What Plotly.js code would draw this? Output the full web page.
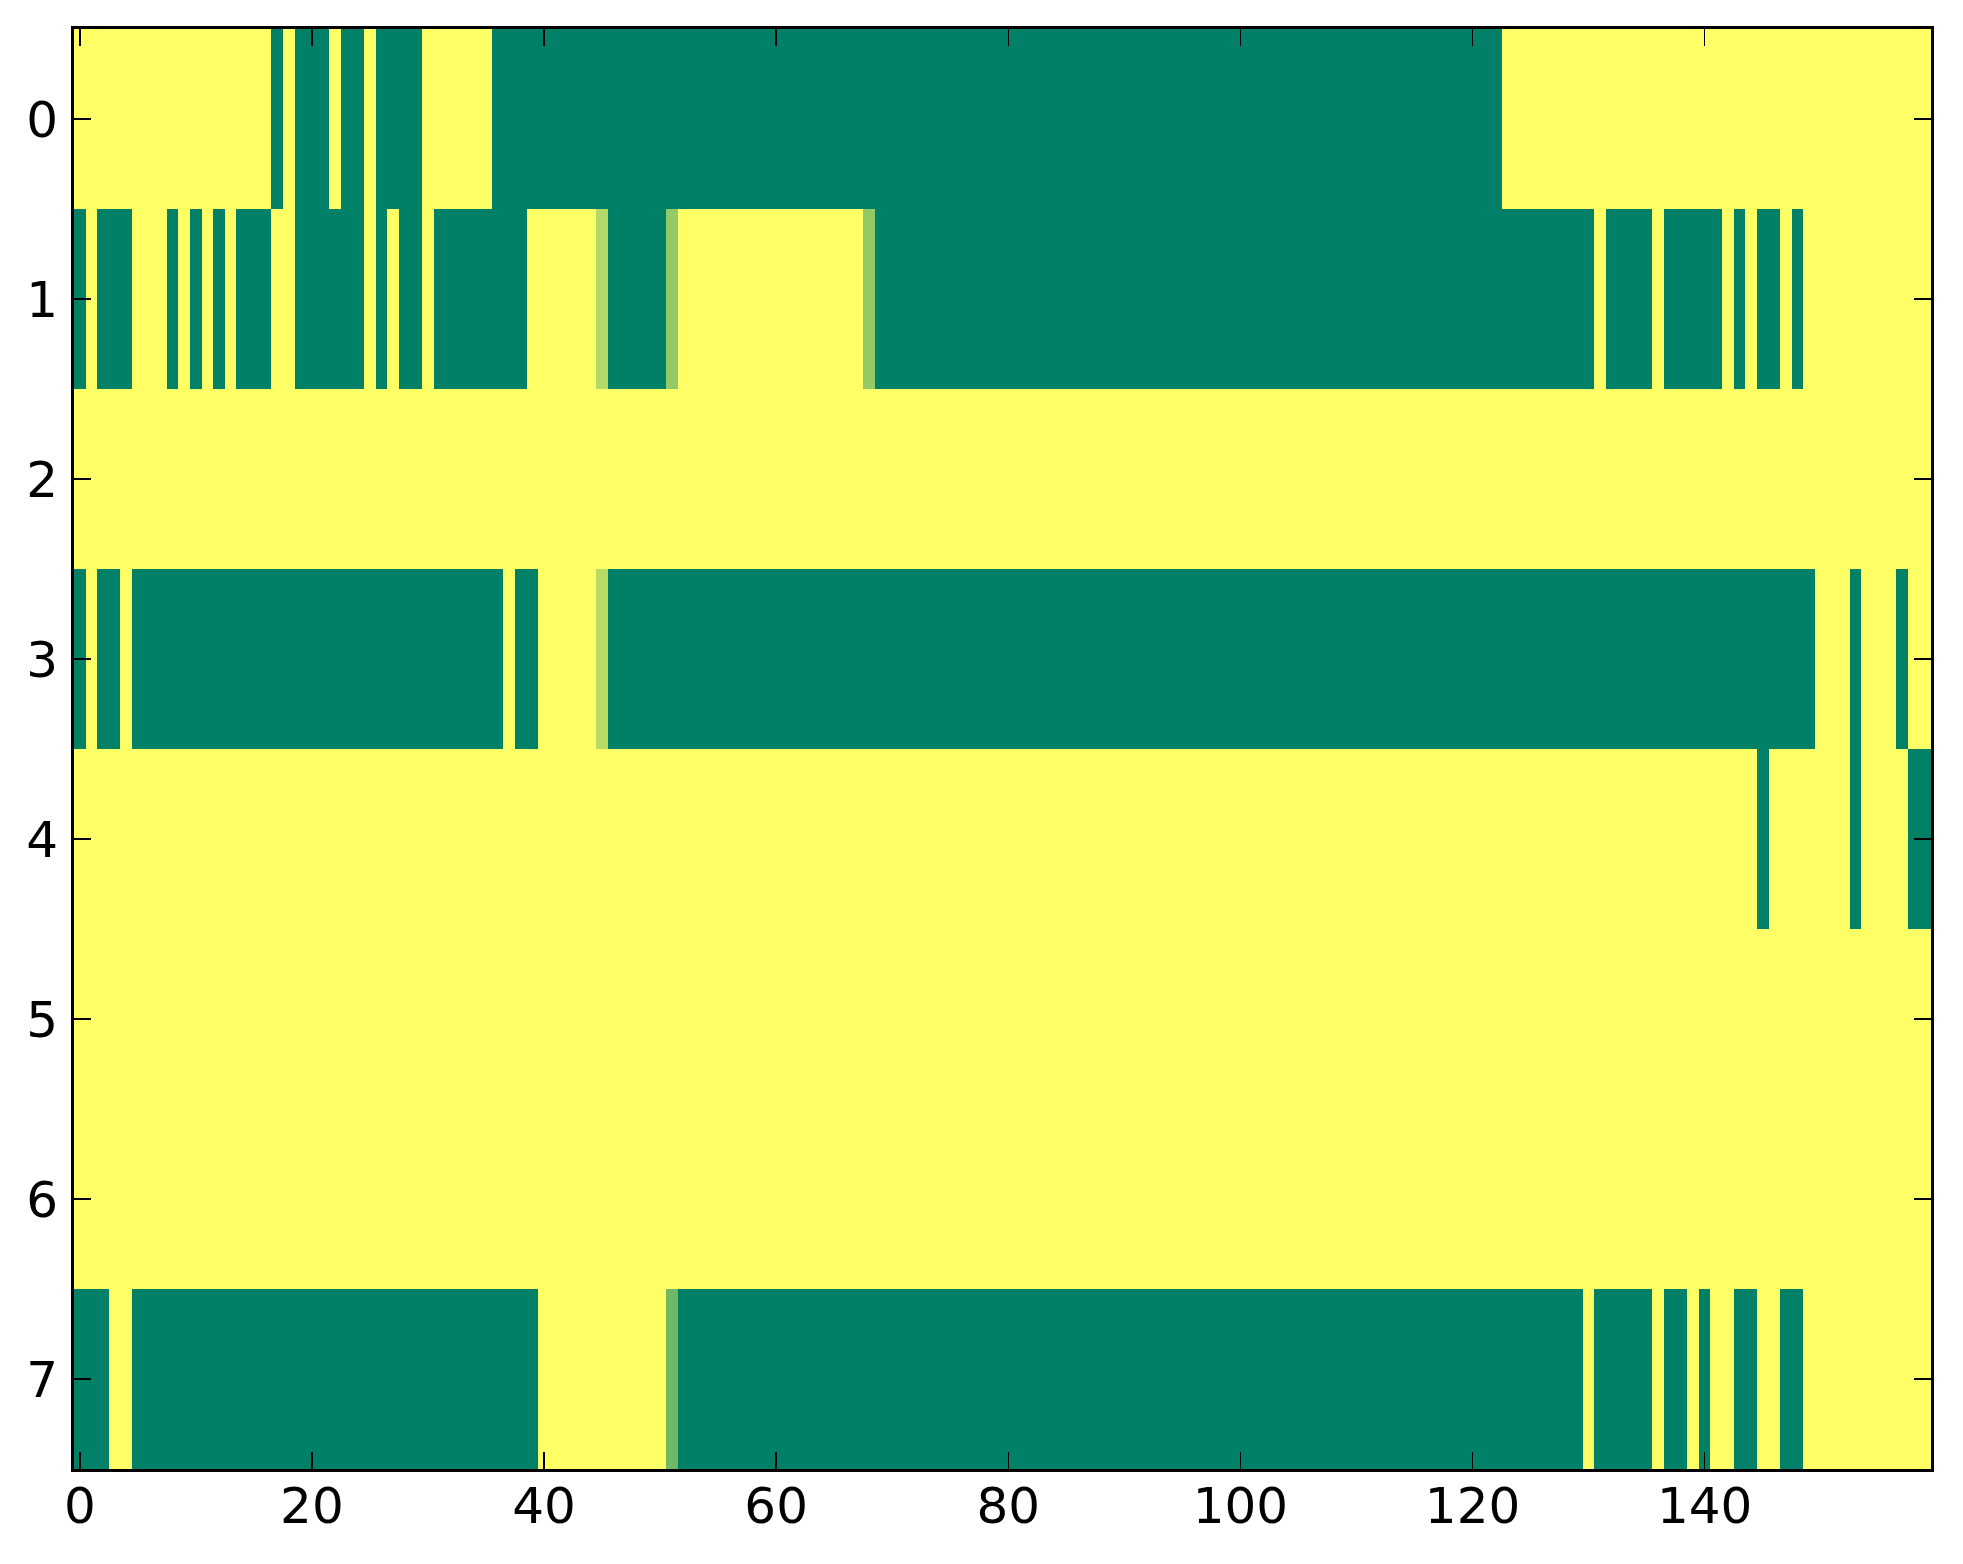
<!DOCTYPE html>
<html>
<head>
<meta charset="utf-8">
<script src="https://cdn.plot.ly/plotly-3.0.1.min.js"></script>
<style>html,body{margin:0;padding:0;background:#fff;}#chart{width:1963px;height:1564px;}</style>
</head>
<body>
<div id="chart"></div>
<script>
// Each row: 160 cells (columns 0..159), 1 = yellow, 0 = green, in-between = lighter green
const row0 = [
1,1,1,1,1,1,1,1,1,1,1,1,1,1,1,1,1,0,1,0,
0,0,1,0,0,1,0,0,0,0,1,1,1,1,1,1,0,0,0,0,
0,0,0,0,0,0,0,0,0,0,0,0,0,0,0,0,0,0,0,0,
0,0,0,0,0,0,0,0,0,0,0,0,0,0,0,0,0,0,0,0,
0,0,0,0,0,0,0,0,0,0,0,0,0,0,0,0,0,0,0,0,
0,0,0,0,0,0,0,0,0,0,0,0,0,0,0,0,0,0,0,0,
0,0,0,1,1,1,1,1,1,1,1,1,1,1,1,1,1,1,1,1,
1,1,1,1,1,1,1,1,1,1,1,1,1,1,1,1,1,1,1,1];
const row1 = [
0,1,0,0,0,1,1,1,0,1,0,1,0,1,0,0,0,1,1,0,
0,0,0,0,0,1,0,1,0,0,1,0,0,0,0,0,0,0,0,1,
1,1,1,1,1,0.7,0,0,0,0,0,0.58,1,1,1,1,1,1,1,1,
1,1,1,1,1,1,1,1,0.58,0,0,0,0,0,0,0,0,0,0,0,
0,0,0,0,0,0,0,0,0,0,0,0,0,0,0,0,0,0,0,0,
0,0,0,0,0,0,0,0,0,0,0,0,0,0,0,0,0,0,0,0,
0,0,0,0,0,0,0,0,0,0,0,1,0,0,0,0,1,0,0,0,
0,0,1,0,1,0,0,1,0,1,1,1,1,1,1,1,1,1,1,1];
const row2 = [
1,1,1,1,1,1,1,1,1,1,1,1,1,1,1,1,1,1,1,1,
1,1,1,1,1,1,1,1,1,1,1,1,1,1,1,1,1,1,1,1,
1,1,1,1,1,1,1,1,1,1,1,1,1,1,1,1,1,1,1,1,
1,1,1,1,1,1,1,1,1,1,1,1,1,1,1,1,1,1,1,1,
1,1,1,1,1,1,1,1,1,1,1,1,1,1,1,1,1,1,1,1,
1,1,1,1,1,1,1,1,1,1,1,1,1,1,1,1,1,1,1,1,
1,1,1,1,1,1,1,1,1,1,1,1,1,1,1,1,1,1,1,1,
1,1,1,1,1,1,1,1,1,1,1,1,1,1,1,1,1,1,1,1];
const row3 = [
0,1,0,0,1,0,0,0,0,0,0,0,0,0,0,0,0,0,0,0,
0,0,0,0,0,0,0,0,0,0,0,0,0,0,0,0,0,1,0,0,
1,1,1,1,1,0.72,0,0,0,0,0,0,0,0,0,0,0,0,0,0,
0,0,0,0,0,0,0,0,0,0,0,0,0,0,0,0,0,0,0,0,
0,0,0,0,0,0,0,0,0,0,0,0,0,0,0,0,0,0,0,0,
0,0,0,0,0,0,0,0,0,0,0,0,0,0,0,0,0,0,0,0,
0,0,0,0,0,0,0,0,0,0,0,0,0,0,0,0,0,0,0,0,
0,0,0,0,0,0,0,0,0,0,1,1,1,0,1,1,1,0,1,1];
const row4 = [
1,1,1,1,1,1,1,1,1,1,1,1,1,1,1,1,1,1,1,1,
1,1,1,1,1,1,1,1,1,1,1,1,1,1,1,1,1,1,1,1,
1,1,1,1,1,1,1,1,1,1,1,1,1,1,1,1,1,1,1,1,
1,1,1,1,1,1,1,1,1,1,1,1,1,1,1,1,1,1,1,1,
1,1,1,1,1,1,1,1,1,1,1,1,1,1,1,1,1,1,1,1,
1,1,1,1,1,1,1,1,1,1,1,1,1,1,1,1,1,1,1,1,
1,1,1,1,1,1,1,1,1,1,1,1,1,1,1,1,1,1,1,1,
1,1,1,1,1,0,1,1,1,1,1,1,1,0,1,1,1,1,0,0];
const row5 = [
1,1,1,1,1,1,1,1,1,1,1,1,1,1,1,1,1,1,1,1,
1,1,1,1,1,1,1,1,1,1,1,1,1,1,1,1,1,1,1,1,
1,1,1,1,1,1,1,1,1,1,1,1,1,1,1,1,1,1,1,1,
1,1,1,1,1,1,1,1,1,1,1,1,1,1,1,1,1,1,1,1,
1,1,1,1,1,1,1,1,1,1,1,1,1,1,1,1,1,1,1,1,
1,1,1,1,1,1,1,1,1,1,1,1,1,1,1,1,1,1,1,1,
1,1,1,1,1,1,1,1,1,1,1,1,1,1,1,1,1,1,1,1,
1,1,1,1,1,1,1,1,1,1,1,1,1,1,1,1,1,1,1,1];
const row6 = [
1,1,1,1,1,1,1,1,1,1,1,1,1,1,1,1,1,1,1,1,
1,1,1,1,1,1,1,1,1,1,1,1,1,1,1,1,1,1,1,1,
1,1,1,1,1,1,1,1,1,1,1,1,1,1,1,1,1,1,1,1,
1,1,1,1,1,1,1,1,1,1,1,1,1,1,1,1,1,1,1,1,
1,1,1,1,1,1,1,1,1,1,1,1,1,1,1,1,1,1,1,1,
1,1,1,1,1,1,1,1,1,1,1,1,1,1,1,1,1,1,1,1,
1,1,1,1,1,1,1,1,1,1,1,1,1,1,1,1,1,1,1,1,
1,1,1,1,1,1,1,1,1,1,1,1,1,1,1,1,1,1,1,1];
const row7 = [
0,0,0,1,1,0,0,0,0,0,0,0,0,0,0,0,0,0,0,0,
0,0,0,0,0,0,0,0,0,0,0,0,0,0,0,0,0,0,0,0,
1,1,1,1,1,1,1,1,1,1,1,0.44,0,0,0,0,0,0,0,0,
0,0,0,0,0,0,0,0,0,0,0,0,0,0,0,0,0,0,0,0,
0,0,0,0,0,0,0,0,0,0,0,0,0,0,0,0,0,0,0,0,
0,0,0,0,0,0,0,0,0,0,0,0,0,0,0,0,0,0,0,0,
0,0,0,0,0,0,0,0,0,0,1,0,0,0,0,0,1,0,0,1,
0,1,1,0,0,1,1,0,0,1,1,1,1,1,1,1,1,1,1,1];

const xTicks = [0, 20, 40, 60, 80, 100, 120, 140];
const yTicks = [0, 1, 2, 3, 4, 5, 6, 7];

const z = [row0, row1, row2, row3, row4, row5, row6, row7];

const trace = {
  type: 'heatmap',
  z: z,
  zmin: 0, zmax: 1,
  colorscale: [[0, 'rgb(0,128,102)'], [1, 'rgb(255,255,102)']],
  showscale: false,
  hoverinfo: 'skip'
};

const tickFont = {family: 'DejaVu Sans', size: 50, color: '#000'};
const layout = {
  width: 1963, height: 1564,
  margin: {l: 74, r: 32, t: 29, b: 95, pad: 0},
  paper_bgcolor: '#fff', plot_bgcolor: '#fff',
  showlegend: false,
  xaxis: {
    range: [-0.5, 159.5], tickvals: xTicks, ticktext: xTicks.map(String),
    ticks: 'inside', ticklen: 17, tickwidth: 1.5, tickcolor: '#000',
    showline: true, linewidth: 3, linecolor: '#000', mirror: 'allticks',
    showgrid: false, zeroline: false, tickfont: tickFont, ticklabelstandoff: -9
  },
  yaxis: {
    range: [7.5, -0.5], tickvals: yTicks, ticktext: yTicks.map(String),
    ticks: 'inside', ticklen: 17, tickwidth: 1.5, tickcolor: '#000',
    showline: true, linewidth: 3, linecolor: '#000', mirror: 'allticks',
    showgrid: false, zeroline: false, tickfont: tickFont, ticklabelstandoff: 3
  }
};

Plotly.newPlot('chart', [trace], layout, {staticPlot: true, displayModeBar: false});
</script>
</body>
</html>
